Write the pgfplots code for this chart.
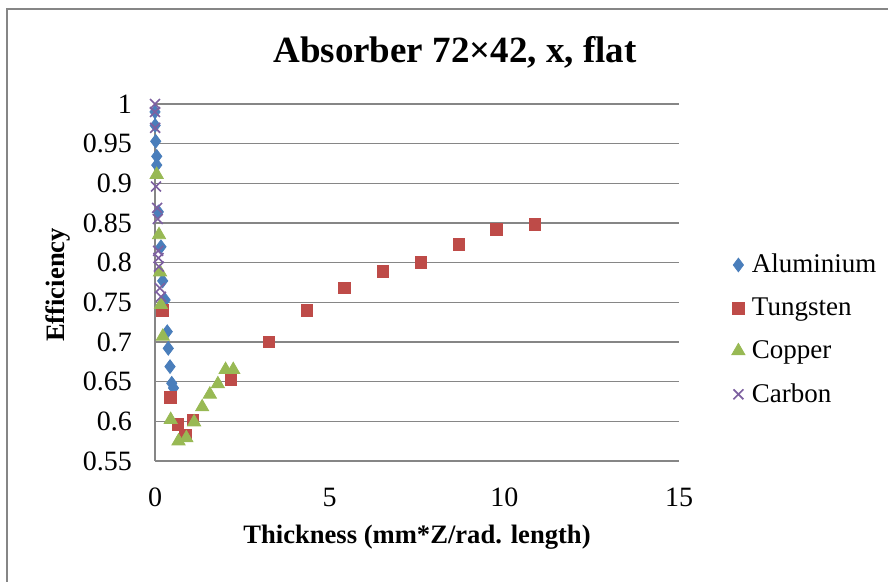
\documentclass[border=0pt]{standalone}
\usepackage{pgfplots}
\pgfplotsset{compat=1.18}
\usepackage{fontspec}
\setmainfont{Liberation Serif}
\definecolor{alu}{HTML}{4A7EBB}
\definecolor{tung}{HTML}{BE4B48}
\definecolor{copp}{HTML}{98B954}
\definecolor{carb}{HTML}{7D60A0}
\definecolor{gridc}{HTML}{868686}
\begin{document}
\begin{tikzpicture}
\useasboundingbox (0,0) rectangle (444pt,291pt);
\draw[gridc, line width=0.8pt] (3.5pt,-5pt) -- (3.5pt,286.5pt) -- (450pt,286.5pt);
\begin{axis}[
  at={(77.5pt,60.5pt)}, anchor=south west,
  scale only axis, width=262pt, height=178.5pt,
  xmin=0, xmax=15, ymin=0.55, ymax=1,
  xtick={0,5,10,15}, ytick={0.55,0.6,...,1.01},
  axis x line*=bottom, axis y line*=left,
  axis line style={gridc, line width=0.75pt, -},
  ymajorgrids, grid style={gridc, line width=0.75pt},
  major tick length=0pt,
  tick label style={font=\fontsize{14}{16}\selectfont},
  /pgf/number format/assume math mode=true,
  xticklabel style={yshift=-10pt},
  yticklabel style={xshift=-8pt},
  clip=false,
  legend style={at={(1.10,0.368)}, anchor=west, draw=none, fill=none,
    font=\fontsize{13.5}{15}\selectfont, row sep=7pt, column sep=1.5pt, inner sep=0pt},
  legend cell align=left,
]
\addplot[only marks, mark=diamond*, mark size=3.4pt, color=alu, fill=alu] coordinates {
(0.00,0.990) (0.005,0.973) (0.02,0.953) (0.05,0.934) (0.05,0.923) (0.095,0.864)
(0.17,0.820) (0.22,0.777) (0.29,0.753) (0.35,0.713) (0.38,0.692) (0.43,0.669)
(0.48,0.648) (0.53,0.642)};
\addlegendentry{Aluminium}
\addplot[only marks, mark=square*, mark size=2.9pt, color=tung, fill=tung] coordinates {
(0.217,0.740) (0.435,0.630) (0.652,0.596) (0.870,0.582) (1.087,0.602) (2.17,0.653)
(3.26,0.700) (4.35,0.740) (5.43,0.768) (6.52,0.789) (7.61,0.800) (8.70,0.823)
(9.78,0.842) (10.87,0.848)};
\addlegendentry{Tungsten}
\addplot[only marks, mark=triangle*, mark size=3.8pt, color=copp, fill=copp] coordinates {
(0.048,0.911) (0.115,0.835) (0.143,0.788) (0.17,0.747) (0.224,0.707) (0.449,0.602)
(0.673,0.575) (0.898,0.579) (1.12,0.599) (1.35,0.618) (1.57,0.634) (1.80,0.647)
(2.02,0.665) (2.24,0.665)};
\addlegendentry{Copper}
\addplot[only marks, mark=x, mark size=3.5pt, color=carb, line width=0.8pt] coordinates {
(0.00,1.000) (0.00,0.990) (0.005,0.970) (0.03,0.896) (0.06,0.869) (0.08,0.855)
(0.09,0.815) (0.10,0.806) (0.11,0.795) (0.14,0.768) (0.17,0.757)};
\addlegendentry{Carbon}
\end{axis}
\node[font=\bfseries\fontsize{18.5}{22}\selectfont] at (227.5pt,265pt) {Absorber 72×42, x, flat};
\node[font=\bfseries\fontsize{13.3}{15}\selectfont] at (208.5pt,22.5pt) {Thickness (mm*Z/rad. length)};
\node[font=\bfseries\fontsize{13.3}{15}\selectfont, rotate=90] at (29pt,148.5pt) {Efficiency};
\end{tikzpicture}
\end{document}
